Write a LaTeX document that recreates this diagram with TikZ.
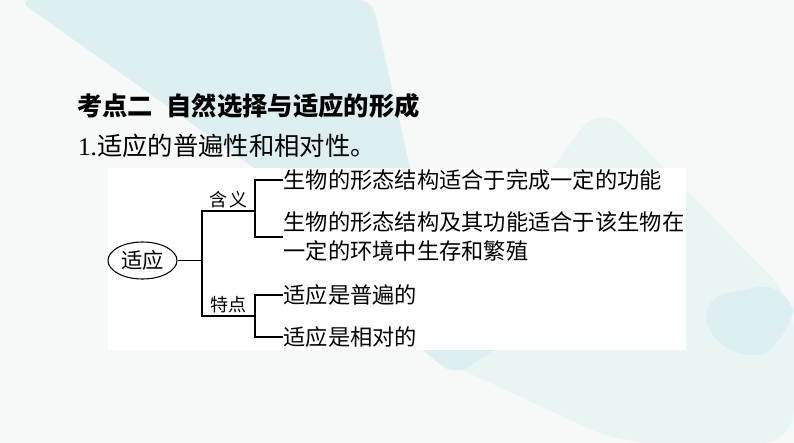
\documentclass[tikz,border=0pt]{standalone}
\usepackage{fontspec}
\setmainfont{Liberation Serif}
\newfontfamily\cjk{Noto Sans CJK SC}
\usetikzlibrary{shapes.geometric}

\definecolor{bgbase}{HTML}{F7F8F8}
\definecolor{bgteal}{HTML}{DDEFF0}
\definecolor{bgpale}{HTML}{E9F4F4}

\begin{document}
\begin{tikzpicture}[x=0.75pt, y=-0.75pt, line width=0.8pt,
    leaf/.style={anchor=west, inner sep=0pt, align=left, font=\cjk\fontsize{16.7}{21.75}\selectfont},
    tag/.style={inner sep=0pt, font=\cjk\fontsize{13.5}{15}\selectfont}]
        \useasboundingbox (0,0) rectangle (794,443);

        % Background
        \fill[bgbase] (0,0) rectangle (794,443);
        \fill[bgteal, rounded corners=10] (18,0) -- (372,0) -- (440,300) -- cycle;
        \fill[bgpale, rounded corners=25] (600,103) -- (794,300) -- (794,443) -- (620,443) -- (420,350) -- cycle;
        \fill[bgteal, rounded corners=30] (690,300) -- (794,280) -- (794,340) -- (735,368) -- cycle;
        \fill[bgteal, rounded corners=12] (410,340) -- (510,340) -- (455,376) -- cycle;
        \fill[white] (108,168) rectangle (686,350);

        % Heading
        \node[anchor=west, inner sep=0pt, font=\cjk\bfseries\fontsize{19}{22}\selectfont] (title) at (76.5,106) {考点二\hspace{10pt}自然选择与适应的形成};
        \node[anchor=west, inner sep=0pt, font=\fontsize{19}{22}\selectfont] (subtitle) at (77.5,146) {1.{\cjk 适应的普遍性和相对性。}};

        % Root
        \node[draw, ellipse, inner sep=0pt, minimum width=51.75pt, minimum height=27.75pt, font=\cjk\fontsize{16}{18}\selectfont] (root) at (142.5,260.5) {适应};
        \coordinate (fork) at (202,260.5);
        \coordinate (forkA) at (255,211);
        \coordinate (forkB) at (255,316);
        \draw (root) -- (fork);
        \draw (forkA) -| (fork) |- (forkB);
        \node[tag] (meaning) at (228.5,199.5) {含\hspace{1.5pt}义};
        \node[tag] (feature) at (228.5,305) {特点};

        % Leaves
        \node[leaf] (m1) at (283,180) {生物的形态结构适合于完成一定的功能};
        \node[leaf] (m2) at (283,237) {生物的形态结构及其功能适合于该生物在\\一定的环境中生存和繁殖};
        \node[leaf] (t1) at (283,295) {适应是普遍的};
        \node[leaf] (t2) at (283,337) {适应是相对的};
        \draw (m1.west) -| (forkA) |- (m2.west);
        \draw (t1.west) -| (forkB) |- (t2.west);
\end{tikzpicture}
\end{document}
